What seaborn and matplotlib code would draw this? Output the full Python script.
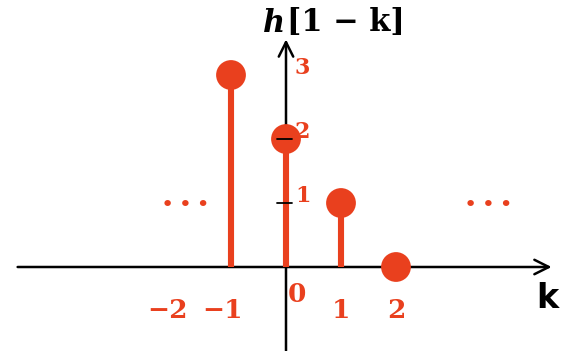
import pandas as pd
import matplotlib.pyplot as plt
import seaborn as sns

# data
k_vals = [-1, 0, 1, 2]
h_vals = [3, 2, 1, 0]
x_tick_labels = [-2, -1, 0, 1, 2]
y_tick_labels = [1, 2, 3]

red = "#E9401E"
df = pd.DataFrame({"k": k_vals, "h": h_vals})

sns.set_style("white")
fig = plt.figure(figsize=(5.69, 3.51), dpi=100)
ax = fig.add_axes([0, 0, 1, 1])

# pixel -> data mapping: x = 286 + 55*k, y = 267 - 64*v
ax.set_xlim(-286 / 55, (569 - 286) / 55)
ax.set_ylim(-84 / 64, 267 / 64)
ax.axis("off")

# axes with arrows
ax.annotate("", xy=(4.88, 0), xytext=(-4.93, 0),
            arrowprops=dict(arrowstyle="->", color="black", lw=1.8,
                            mutation_scale=26))
ax.annotate("", xy=(0, 3.6), xytext=(0, -1.35),
            arrowprops=dict(arrowstyle="->", color="black", lw=1.8,
                            mutation_scale=26))

# stems + heads
ax.vlines(df["k"], 0, df["h"], color=red, lw=4.4, zorder=3)
sns.scatterplot(data=df, x="k", y="h", color=red, s=460, edgecolor="none",
                zorder=4, ax=ax, legend=False)

# y ticks
for v in y_tick_labels[:2]:
    ax.plot([-0.16, 0.11], [v, v], color="black", lw=1.3, zorder=5)
for v in y_tick_labels:
    ax.annotate(str(v), xy=(0, v), xytext=(12, 5), textcoords="offset points",
                color=red, fontsize=16, fontweight="bold", family="DejaVu Serif",
                ha="center", va="center")

# x tick labels
for t in x_tick_labels:
    dx = 0.2 if t == 0 else (-0.15 if t < 0 else 0)
    dy = 0.25 if t == 0 else 0
    lab = str(t).replace("-", "\u2212")
    ax.text(t + dx, -0.68 + dy, lab, color=red, fontsize=19, fontweight="bold",
            family="DejaVu Serif", ha="center", va="center")

# ellipses
ax.text(-1.83, 0.97, "\u2022\u2009\u2022\u2009\u2022", color=red, fontsize=16,
        ha="center", va="center")
ax.text(3.68, 0.97, "\u2022\u2009\u2022\u2009\u2022", color=red, fontsize=16,
        ha="center", va="center")

# labels
ax.text(4.75, -0.5, "k", color="black", fontsize=24, fontweight="bold",
        ha="center", va="center")
ax.text(-0.42, 3.8, "h", color="black", fontsize=22, fontweight="bold",
        style="italic", family="DejaVu Serif", ha="left", va="center")
ax.text(0.02, 3.82, "[1 \u2212 k]", color="black", fontsize=22,
        fontweight="bold", family="DejaVu Serif", ha="left", va="center")

fig.savefig("out.png", dpi=100)
